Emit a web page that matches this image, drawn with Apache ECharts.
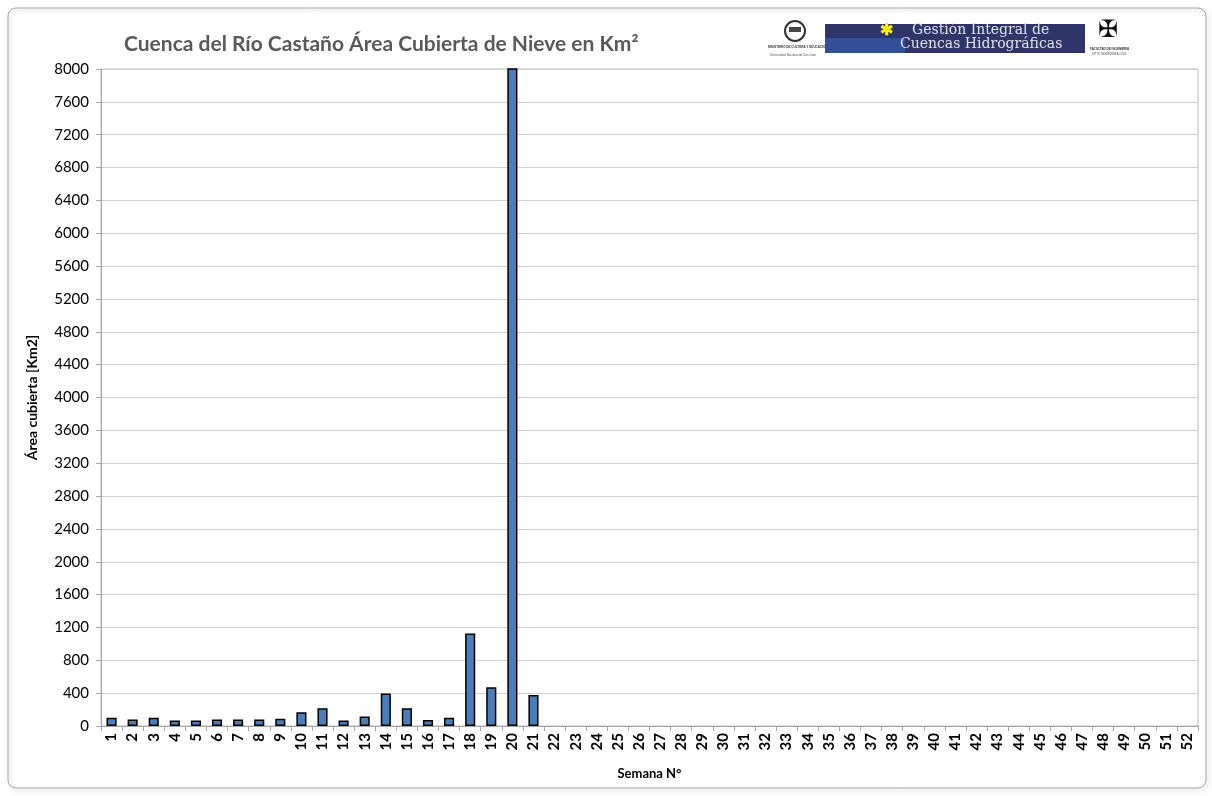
<!DOCTYPE html>
<html>
<head>
<meta charset="utf-8">
<script src="https://cdn.jsdelivr.net/npm/echarts@6/dist/echarts.min.js"></script>
<style>
html,body{margin:0;padding:0;background:#fff;}
#chart{width:1212px;height:796px;}
</style>
</head>
<body>
<div id="chart"></div>
<script>
// Weekly snow-covered area (km²) for the Castaño river basin
const weeks = Array.from({length: 52}, (_, i) => String(i + 1));
const snowArea = [
  100, 80, 100, 68, 68, 80, 80, 80, 88, 168,
  215, 68, 115, 395, 215, 72, 100, 1125, 472, 8300,
  376, null, null, null, null, null, null, null, null, null,
  null, null, null, null, null, null, null, null, null, null,
  null, null, null, null, null, null, null, null, null, null,
  null, null
];
const titleText = 'Cuenca del Río Castaño Área Cubierta de Nieve en Km²';
const yName = 'Área cubierta [Km2]';
const xName = 'Semana N°';

const font = 'Lato, "Open Sans", sans-serif';
const chart = echarts.init(document.getElementById('chart'));

chart.setOption({
  animation: false,
  backgroundColor: '#fff',
  title: {
    text: titleText,
    left: 119, top: 29,
    textStyle: {fontFamily: font, fontSize: 21, fontWeight: 'bold', color: '#595959'}
  },
  grid: {left: 101, right: 14, top: 69, bottom: 70, show: true, borderColor: '#bfbfbf', borderWidth: 1},
  xAxis: {
    type: 'category',
    data: weeks,
    name: xName,
    nameLocation: 'middle',
    nameGap: 41,
    nameTextStyle: {fontFamily: font, fontSize: 13, fontWeight: 'bold', color: '#000'},
    axisLine: {lineStyle: {color: '#a6a6a6'}},
    axisTick: {show: true, alignWithLabel: false, length: 5, lineStyle: {color: '#a6a6a6'}},
    axisLabel: {rotate: 90, interval: 0, fontFamily: font, fontSize: 15, fontWeight: 'bold', color: '#000', margin: 7}
  },
  yAxis: {
    type: 'value',
    min: 0, max: 8000, interval: 400,
    name: yName,
    nameLocation: 'middle',
    nameGap: 62,
    nameTextStyle: {fontFamily: font, fontSize: 14, fontWeight: 'bold', color: '#000'},
    axisLine: {show: true, lineStyle: {color: '#a6a6a6'}},
    axisTick: {show: true, length: 5, lineStyle: {color: '#a6a6a6'}},
    axisLabel: {fontFamily: font, fontSize: 15, color: '#000', margin: 12, formatter: v => String(v)},
    splitLine: {lineStyle: {color: '#d0d0d0'}}
  },
  series: [{
    type: 'bar',
    data: snowArea,
    barWidth: '48%',
    clip: true,
    itemStyle: {color: '#4a7ebb', borderColor: '#000', borderWidth: 1.5}
  }],
  graphic: [
    // outer rounded frame
    {type: 'rect', shape: {x: 8, y: 8, width: 1198, height: 780, r: 8},
     style: {fill: 'none', stroke: '#a6a6a6', lineWidth: 1, shadowBlur: 4, shadowColor: 'rgba(0,0,0,0.25)', shadowOffsetX: 2, shadowOffsetY: 2}, z: -10},
    // banner: left emblem
    {type: 'group', left: 768, top: 20, children: [
      {type: 'circle', shape: {cx: 30, cy: 12, r: 10}, style: {fill: '#fff', stroke: '#333', lineWidth: 2}},
      {type: 'rect', shape: {x: 24, y: 8, width: 12, height: 5}, style: {fill: '#444'}},
      {type: 'text', style: {text: 'MINISTERIO DE CULTURA Y EDUCACION', x: 3, y: 27, fill: '#333', font: 'bold 3px sans-serif'}},
      {type: 'text', style: {text: 'Universidad Nacional de San Juan', x: 5, y: 35, fill: '#555', font: '3px sans-serif'}}
    ]},
    // banner: main title block
    {type: 'rect', shape: {x: 825, y: 24, width: 260, height: 29}, style: {fill: '#2f3569'}},
    {type: 'rect', shape: {x: 825, y: 38, width: 80, height: 15}, style: {fill: '#3a6fd0', opacity: 0.45}},
    {type: 'text', style: {text: '✱', x: 880, y: 23, fill: '#ffee00', font: 'bold 16px sans-serif'}},
    {type: 'text', style: {text: 'Gestión Integral de', x: 912, y: 23, fill: '#e0e0ea', font: '14px "DejaVu Serif", serif'}},
    {type: 'text', style: {text: 'Cuencas Hidrográficas', x: 900, y: 37, fill: '#e0e0ea', font: '14px "DejaVu Serif", serif'}},
    // banner: right emblem
    {type: 'text', style: {text: '✠', x: 1098, y: 19, fill: '#111', font: 'bold 24px "DejaVu Sans", sans-serif'}},
    {type: 'text', style: {text: 'FACULTAD DE INGENIERIA', x: 1090, y: 48, fill: '#333', font: 'bold 3px sans-serif'}},
    {type: 'text', style: {text: 'DPTO INGENIERIA CIVIL', x: 1092, y: 53, fill: '#555', font: '3px sans-serif'}}
  ]
});
</script>
</body>
</html>
